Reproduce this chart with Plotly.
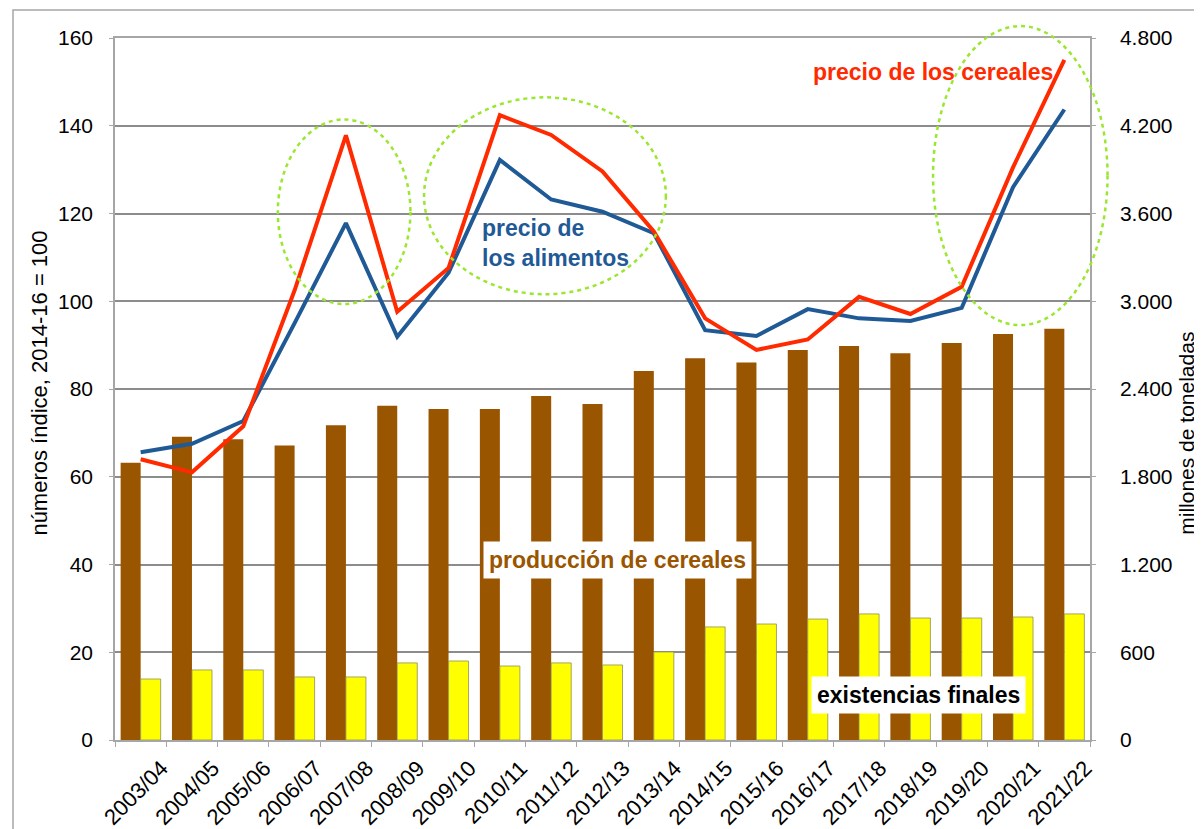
import plotly.graph_objects as go

campanas = ["2003/04", "2004/05", "2005/06", "2006/07", "2007/08", "2008/09", "2009/10",
            "2010/11", "2011/12", "2012/13", "2013/14", "2014/15", "2015/16", "2016/17",
            "2017/18", "2018/19", "2019/20", "2020/21", "2021/22"]

produccion_cereales = [1896, 2074, 2056, 2013, 2152, 2286, 2263, 2263, 2352, 2298,
                       2523, 2610, 2582, 2667, 2694, 2644, 2715, 2776, 2812]
existencias_finales = [417, 479, 479, 431, 431, 527, 540, 506, 527, 513,
                       602, 773, 793, 827, 862, 834, 834, 841, 862]

precio_cereales = [64.0, 61.0, 71.5, 102.5, 137.8, 97.6, 107.6, 142.4, 137.9, 129.6,
                   115.9, 96.1, 88.9, 91.3, 101.0, 97.1, 103.3, 130.5, 155.0]
precio_alimentos = [65.6, 67.5, 72.7, 95.0, 117.8, 91.9, 106.5, 132.2, 123.2, 120.4,
                    115.5, 93.4, 92.1, 98.2, 96.1, 95.5, 98.5, 126.0, 143.7]

ticks_izq = [0, 20, 40, 60, 80, 100, 120, 140, 160]
ticks_der = [0, 600, 1200, 1800, 2400, 3000, 3600, 4200, 4800]
ticks_der_txt = ["0", "600", "1.200", "1.800", "2.400", "3.000", "3.600", "4.200", "4.800"]

BROWN = "#9a5500"
YELLOW = "#ffff00"
RED = "#ff2a00"
BLUE = "#1f5a96"
GREEN = "#9be62e"
GRID = "#8c8c8c"
AXIS = "#a6a6a6"
FONT = "Liberation Sans, Arial, sans-serif"

fig = go.Figure()
fig.add_trace(go.Bar(x=campanas, y=produccion_cereales, name="producción de cereales",
                     marker=dict(color=BROWN, line=dict(width=0)), yaxis="y"))
fig.add_trace(go.Bar(x=campanas, y=existencias_finales, name="existencias finales",
                     marker=dict(color=YELLOW, line=dict(color="#8f8f55", width=0.8)), yaxis="y"))
fig.add_trace(go.Scatter(x=campanas, y=precio_alimentos, mode="lines", name="precio de los alimentos",
                         line=dict(color=BLUE, width=4), yaxis="y2"))
fig.add_trace(go.Scatter(x=campanas, y=precio_cereales, mode="lines", name="precio de los cereales",
                         line=dict(color=RED, width=4), yaxis="y2"))

# the page adds an 8px body margin, so the figure is 8px smaller than the window
fig.update_layout(
    width=1194, height=821,
    margin=dict(l=107, r=112, t=30, b=89, autoexpand=False),
    paper_bgcolor="white", plot_bgcolor="white",
    showlegend=False,
    barmode="group", bargap=0.22, bargroupgap=0,
    font=dict(family=FONT, size=21, color="black"),
    xaxis=dict(type="category", showline=True, linecolor=AXIS, linewidth=1.5, mirror=True,
               ticks="outside", tickson="boundaries", ticklen=5, tickcolor=AXIS,
               tickangle=-45, tickfont=dict(size=22), showgrid=False, automargin=False,
               ticklabelshift=21, ticklabelstandoff=5),
    yaxis=dict(side="right", range=[0, 4800], tickvals=ticks_der, ticktext=ticks_der_txt,
               showgrid=True, gridcolor=GRID, gridwidth=1.5, zeroline=False,
               showline=True, linecolor=AXIS, linewidth=1.5, automargin=False,
               ticks="outside", ticklen=4, tickcolor=AXIS, ticklabelstandoff=20,
               tickfont=dict(size=21)),
    yaxis2=dict(side="left", overlaying="y", range=[0, 160], tickvals=ticks_izq,
                showgrid=False, zeroline=False, showline=True, linecolor=AXIS, linewidth=1.5,
                ticks="outside", ticklen=4, tickcolor=AXIS, ticklabelstandoff=12,
                automargin=False, tickfont=dict(size=21)),
)

# dashed ellipses
for x0, x1, y0, y1 in [(0.167, 0.303, 0.621, 0.884),
                       (0.317, 0.565, 0.635, 0.9155),
                       (0.839, 1.018, 0.591, 1.017)]:
    fig.add_shape(type="circle", xref="paper", yref="paper", x0=x0, x1=x1, y0=y0, y1=y1,
                  line=dict(color=GREEN, width=2.5, dash="4px,4px"), layer="above")

# outer border
fig.add_shape(type="rect", xref="paper", yref="paper", x0=-0.1046, x1=1.3, y0=-0.4, y1=1.04,
              line=dict(color=AXIS, width=1.5), layer="below")

fig.add_annotation(xref="paper", yref="paper", x=0.8385, y=0.9516, xanchor="center", yanchor="middle",
                   text="<b>precio de los cereales</b>", showarrow=False, font=dict(size=23, color=RED))
fig.add_annotation(xref="paper", yref="paper", x=0.3744, y=0.7073, xanchor="left", yanchor="middle",
                   align="left", text="<b>precio de<br>los alimentos</b>", showarrow=False,
                   font=dict(size=23, color=BLUE))
fig.add_annotation(xref="paper", yref="paper", x=0.5154, y=0.257, xanchor="center", yanchor="middle",
                   text="<b>producción de cereales</b>", showarrow=False,
                   font=dict(size=23, color=BROWN), bgcolor="white", borderpad=5)
fig.add_annotation(xref="paper", yref="paper", x=0.8246, y=0.0641, xanchor="center", yanchor="middle",
                   text="<b>existencias finales</b>", showarrow=False,
                   font=dict(size=23, color="black"), bgcolor="white", borderpad=5)

# axis titles
fig.add_annotation(xref="paper", yref="paper", x=-0.077, y=0.509, xanchor="center", yanchor="middle",
                   textangle=-90, text="números índice, 2014-16 = 100", showarrow=False,
                   font=dict(family="Liberation Sans Narrow, Arial Narrow, Liberation Sans, sans-serif", size=22))
fig.add_annotation(xref="paper", yref="paper", x=1.099, y=0.437, xanchor="center", yanchor="middle",
                   textangle=-90, text="millones de toneladas", showarrow=False,
                   font=dict(family="Liberation Sans Narrow, Arial Narrow, Liberation Sans, sans-serif", size=21))

fig.write_html("out.html")
